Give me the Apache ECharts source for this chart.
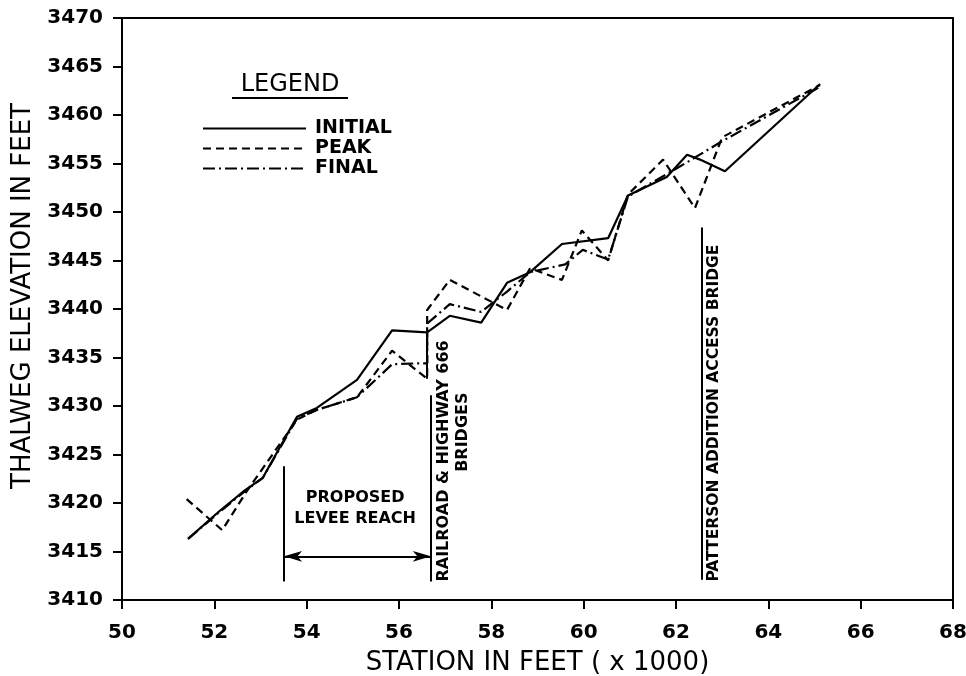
<!DOCTYPE html>
<html>
<head>
<meta charset="utf-8">
<title>Thalweg Elevation Profile</title>
<script src="https://cdn.jsdelivr.net/npm/echarts@6/dist/echarts.min.js"></script>
<style>
  html, body { margin: 0; padding: 0; background: #fff; }
  #chart { width: 966px; height: 676px; }
</style>
</head>
<body>
<div id="chart"></div>
<script>
// Station (x 1000 ft) and thalweg elevation (ft) for each profile
const initialStations = [51.43, 52.12, 52.66, 53.05, 53.79, 54.22, 55.09, 55.85, 56.61, 57.10, 57.78, 58.34, 58.84, 59.53, 60.53, 60.96, 61.80, 62.24, 62.52, 63.06, 65.12];
const initialElev     = [3416.3, 3419.2, 3421.3, 3422.6, 3428.9, 3429.8, 3432.7, 3437.8, 3437.6, 3439.3, 3438.6, 3442.7, 3443.8, 3446.7, 3447.3, 3451.7, 3453.6, 3455.9, 3455.4, 3454.2, 3463.2];

const peakStations = [51.40, 52.17, 52.70, 53.79, 54.22, 55.09, 55.85, 56.61, 56.61, 57.10, 58.34, 58.84, 59.53, 59.96, 60.53, 60.96, 61.72, 62.41, 63.00, 65.12];
const peakElev     = [3420.4, 3417.2, 3421.2, 3428.6, 3429.6, 3430.9, 3435.7, 3432.8, 3439.9, 3443.0, 3439.9, 3444.2, 3443.0, 3448.1, 3445.0, 3451.8, 3455.4, 3450.4, 3457.7, 3463.1];

const finalStations = [51.43, 52.12, 52.66, 53.05, 53.79, 54.22, 55.09, 55.85, 56.40, 56.61, 56.61, 57.10, 57.78, 58.34, 58.84, 59.60, 59.98, 60.53, 60.96, 61.80, 62.30, 63.00, 65.12];
const finalElev     = [3416.3, 3419.1, 3421.2, 3422.6, 3428.7, 3429.6, 3430.9, 3434.3, 3434.4, 3434.4, 3438.5, 3440.5, 3439.7, 3441.8, 3443.8, 3444.6, 3446.1, 3445.1, 3451.6, 3453.9, 3455.3, 3457.3, 3462.9];

const seriesNames = ['INITIAL', 'PEAK', 'FINAL'];

// Reference features along the reach (station, elevation)
const bridgeFace   = [[56.61, 3432.8], [56.61, 3437.6]];
const leveeStart   = [[53.51, 3411.9], [53.51, 3423.8]];
const railBridge   = [[56.69, 3411.9], [56.69, 3431.1]];
const leveeArrow   = [[53.51, 3414.5], [56.69, 3414.5]];
const pattersonBr  = [[62.56, 3412.1], [62.56, 3448.4]];

const xTicks = { min: 50, max: 68, interval: 2 };
const yTicks = { min: 3410, max: 3470, interval: 5 };

function pairs(xs, ys) { return xs.map((x, i) => [x, ys[i]]); }

const FONT = 'DejaVu Sans';
const LINE_W = 2.2;
const chart = echarts.init(document.getElementById('chart'), null, { renderer: 'canvas' });

function seg(p) {
  return [{ coord: p[0] }, { coord: p[1] }];
}

const option = {
  backgroundColor: '#ffffff',
  animation: false,
  grid: {
    left: 122, right: 13, top: 18, bottom: 76, outerBoundsMode: 'none',
    show: true, borderColor: '#000', borderWidth: 2, backgroundColor: 'transparent'
  },
  xAxis: {
    type: 'value', min: xTicks.min, max: xTicks.max, interval: xTicks.interval,
    name: 'STATION IN FEET ( x 1000)', nameLocation: 'middle', nameGap: 50,
    nameTextStyle: { color: '#000', fontFamily: FONT, fontSize: 26 },
    axisLine: { lineStyle: { color: '#000', width: 2 } },
    axisTick: { show: true, inside: false, length: 9, lineStyle: { color: '#000', width: 2 } },
    axisLabel: { color: '#000', fontFamily: FONT, fontWeight: 'bold', fontSize: 20, margin: 23, formatter: v => String(v) },
    splitLine: { show: false }
  },
  yAxis: {
    type: 'value', min: yTicks.min, max: yTicks.max, interval: yTicks.interval,
    name: 'THALWEG ELEVATION IN FEET', nameLocation: 'middle', nameGap: 82, nameRotate: 90,
    nameTextStyle: { color: '#000', fontFamily: FONT, fontSize: 26, padding: [0, 0, 0, 26] },
    axisLine: { lineStyle: { color: '#000', width: 2 } },
    axisTick: { show: true, inside: false, length: 9, lineStyle: { color: '#000', width: 2 } },
    axisLabel: { color: '#000', fontFamily: FONT, fontWeight: 'bold', fontSize: 20, margin: 19, formatter: v => String(v) },
    splitLine: { show: false }
  },
  legend: {
    data: seriesNames,
    orient: 'vertical', left: 197, top: 114,
    itemWidth: 103, itemHeight: 14, itemGap: 1,
    itemStyle: { opacity: 0 },
    textStyle: { color: '#000', fontFamily: FONT, fontWeight: 'bold', fontSize: 19, lineHeight: 18, padding: [0, 0, 0, 4] },
    selectedMode: false
  },
  series: [
    {
      name: 'INITIAL', type: 'line', data: pairs(initialStations, initialElev),
      showSymbol: false, symbol: 'none', silent: true,
      lineStyle: { color: '#000', width: LINE_W, type: 'solid' }, itemStyle: { color: '#000' }
    },
    {
      name: 'PEAK', type: 'line', data: pairs(peakStations, peakElev),
      showSymbol: false, symbol: 'none', silent: true,
      lineStyle: { color: '#000', width: LINE_W, type: [8, 5] }, itemStyle: { color: '#000' }
    },
    {
      name: 'FINAL', type: 'line', data: pairs(finalStations, finalElev),
      showSymbol: false, symbol: 'none', silent: true,
      lineStyle: { color: '#000', width: LINE_W, type: [12, 4, 2, 4] }, itemStyle: { color: '#000' }
    },
    {
      name: 'features', type: 'line', data: [], silent: true,
      markLine: {
        silent: true, symbol: ['none', 'none'],
        label: { show: false },
        lineStyle: { color: '#000', width: 2, type: 'solid' },
        emphasis: { disabled: true },
        data: [
          seg(bridgeFace),
          seg(leveeStart),
          seg(railBridge),
          seg(pattersonBr),
          [
            { coord: leveeArrow[0], symbol: 'arrow', symbolSize: [8, 18] },
            { coord: leveeArrow[1], symbol: 'arrow', symbolSize: [8, 18] }
          ]
        ]
      }
    }
  ]
};
chart.setOption(option);

// Text notes placed at data positions along the reach
function px(x, y) { return chart.convertToPixel({ gridIndex: 0 }, [x, y]); }
const noteStyle = { fill: '#000', fontFamily: FONT, fontWeight: 'bold', fontSize: 16 };
const p1 = px(55.05, 3420.5), p2 = px(55.05, 3418.35);
const r1 = px(56.97, 3411.9), r2 = px(57.39, 3427.3), pa = px(62.82, 3411.9);

chart.setOption({
  graphic: [
    { type: 'text', x: 290, y: 85, style: { text: 'LEGEND', fill: '#000', fontFamily: FONT, fontSize: 24, align: 'center', verticalAlign: 'middle' } },
    { type: 'line', shape: { x1: 232, y1: 98, x2: 348, y2: 98 }, style: { stroke: '#000', lineWidth: 2 } },
    { type: 'text', x: p1[0], y: p1[1], style: Object.assign({ text: 'PROPOSED', align: 'center', verticalAlign: 'middle' }, noteStyle) },
    { type: 'text', x: p2[0], y: p2[1], style: Object.assign({ text: 'LEVEE REACH', align: 'center', verticalAlign: 'middle' }, noteStyle) },
    { type: 'text', x: r1[0], y: r1[1], rotation: Math.PI / 2, style: Object.assign({ text: 'RAILROAD & HIGHWAY 666', align: 'left', verticalAlign: 'middle' }, noteStyle) },
    { type: 'text', x: r2[0], y: r2[1], rotation: Math.PI / 2, style: Object.assign({ text: 'BRIDGES', align: 'center', verticalAlign: 'middle' }, noteStyle) },
    { type: 'text', x: pa[0], y: pa[1], rotation: Math.PI / 2, style: Object.assign({ text: 'PATTERSON ADDITION ACCESS BRIDGE', align: 'left', verticalAlign: 'middle' }, noteStyle, { fontSize: 15.5 }) }
  ]
});
</script>
</body>
</html>
